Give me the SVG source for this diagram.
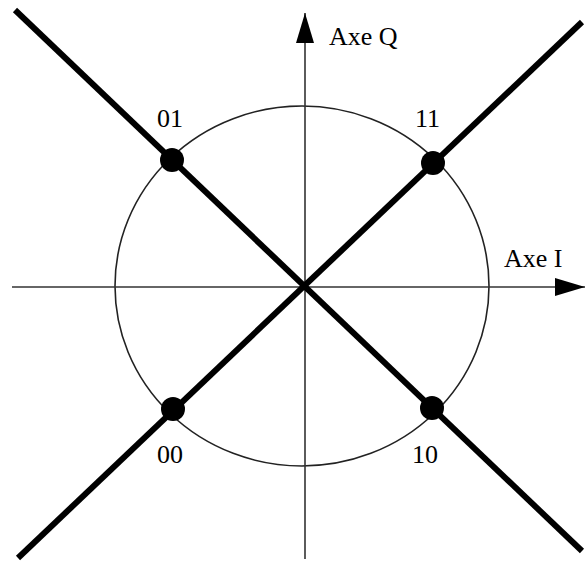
<svg xmlns="http://www.w3.org/2000/svg" width="587" height="563" viewBox="0 0 587 563">
<style>
.axis{stroke:#333;stroke-width:1.6;fill:none}
.diag{stroke:#000;stroke-width:6;fill:none}
.circ{stroke:#222;stroke-width:1.6;fill:none}
.dot{fill:#000}
.lbl{font-family:"Liberation Serif","Times New Roman",serif;font-size:26px;fill:#000}
</style>
<defs>
<marker id="arr" markerUnits="userSpaceOnUse" markerWidth="30" markerHeight="18" refX="30" refY="9" orient="auto">
<path d="M0,0 L30,9 L0,18 z" fill="#000"/>
</marker>
</defs>
<rect width="587" height="563" fill="#fff"/>
<ellipse class="circ" cx="302" cy="286" rx="187" ry="180"/>
<g id="connectors">
<line class="axis" x1="12" y1="287" x2="585" y2="287" marker-end="url(#arr)"/>
<line class="axis" x1="305" y1="559" x2="305" y2="13" marker-end="url(#arr)"/>
<line class="diag" x1="15" y1="10" x2="582" y2="551"/>
<line class="diag" x1="582" y1="22" x2="18" y2="558"/>
</g>
<text class="lbl" x="329" y="45">Axe Q</text>
<text class="lbl" x="504" y="267">Axe I</text>
<g id="n01"><circle class="dot" cx="172" cy="160" r="12"/><text class="lbl" x="157" y="127">01</text></g>
<g id="n11"><circle class="dot" cx="433" cy="163" r="12"/><text class="lbl" x="415" y="127">11</text></g>
<g id="n00"><circle class="dot" cx="173" cy="409" r="12"/><text class="lbl" x="157" y="463">00</text></g>
<g id="n10"><circle class="dot" cx="432" cy="408" r="12"/><text class="lbl" x="412" y="463">10</text></g>
</svg>
